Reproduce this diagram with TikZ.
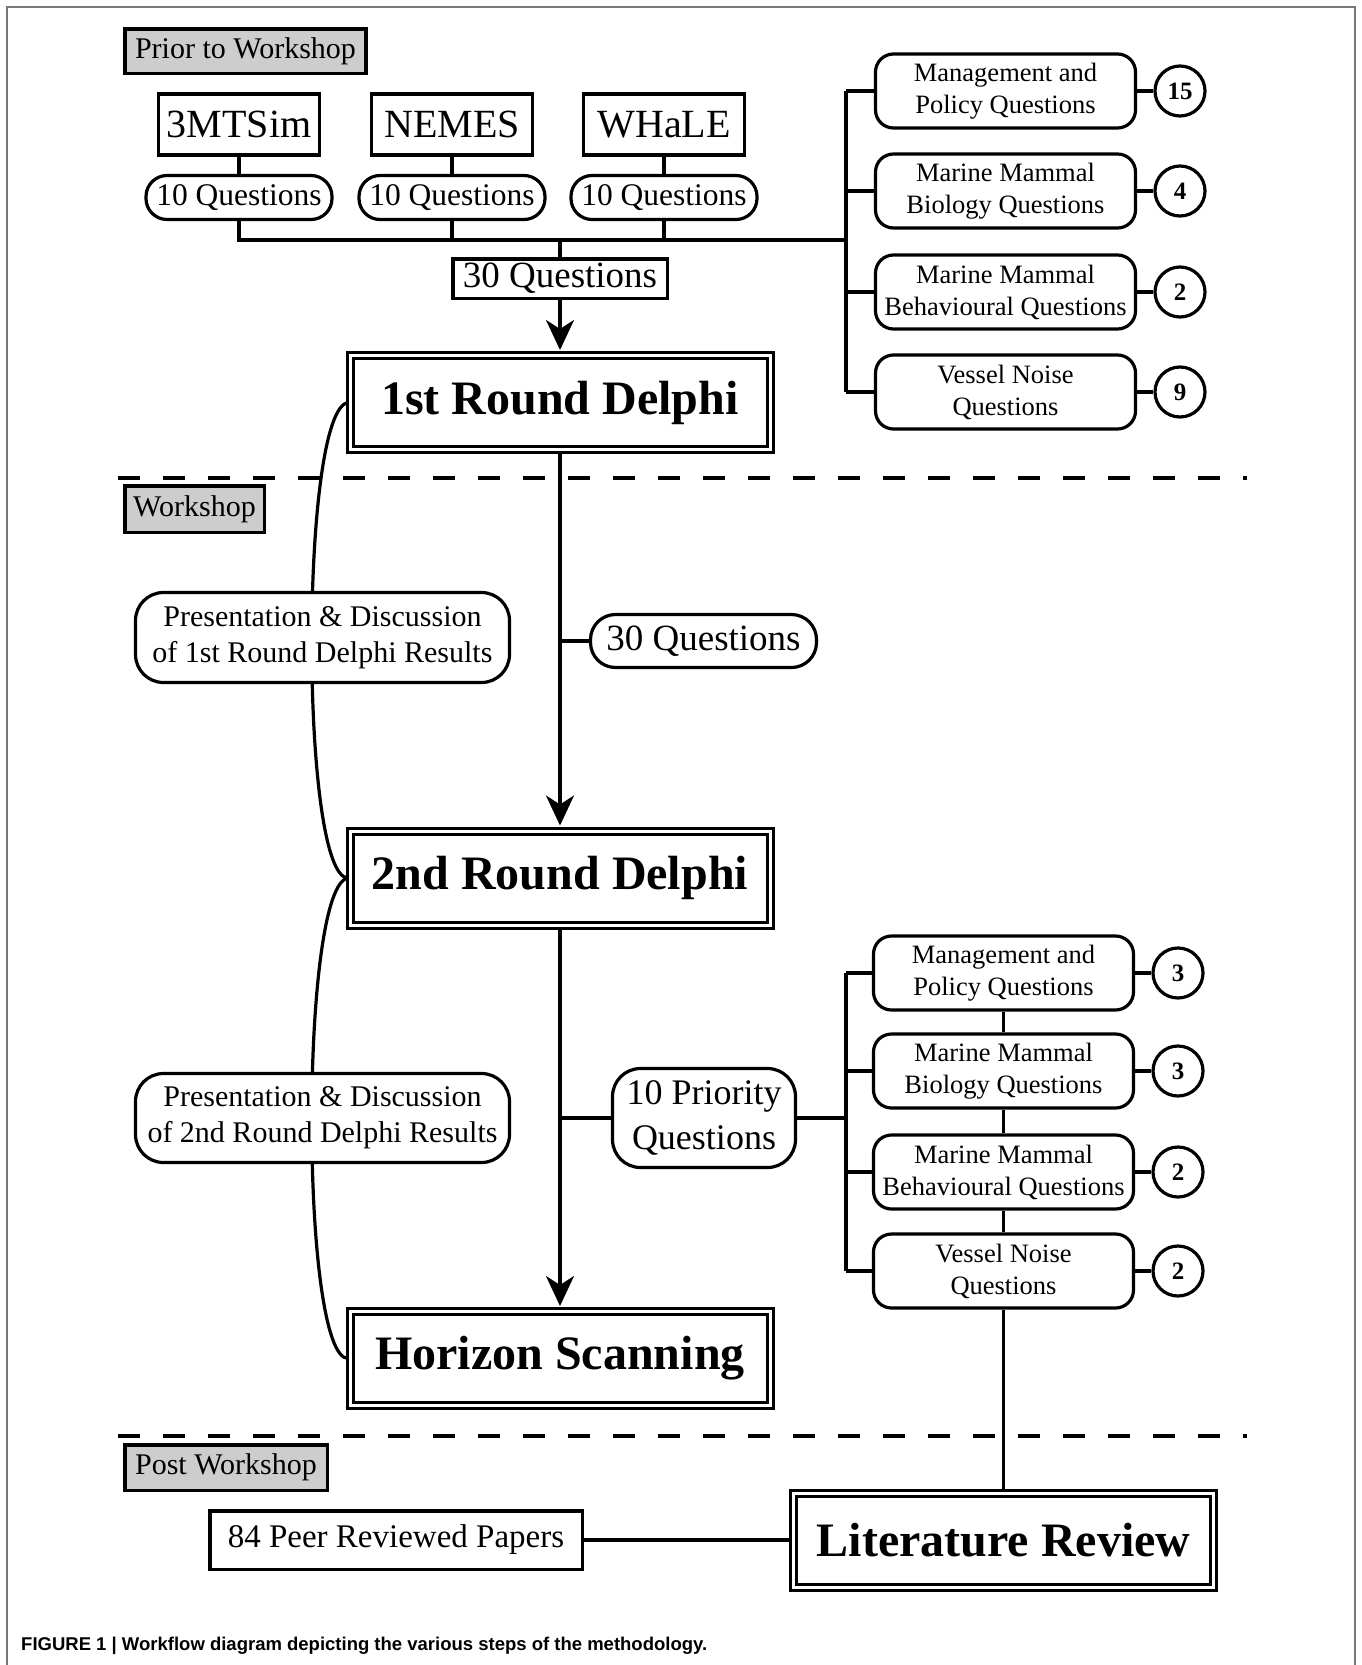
\documentclass[tikz,border=0pt]{standalone}
\usepackage{fontspec}
\setmainfont{Liberation Serif}
\newfontfamily\capfont{Liberation Sans}
\usetikzlibrary{arrows.meta}
\definecolor{stagegray}{RGB}{205,205,205}
\definecolor{framegray}{RGB}{120,120,120}

\begin{document}
\begin{tikzpicture}[x=1pt,y=-1pt,
  every node/.style={inner sep=0pt,align=center,text=black},
  conn/.style={line width=3.2pt},
  arrowconn/.style={line width=3.2pt,shorten >=4pt,-{Stealth[length=30pt,width=28pt,inset=9pt]}},
  stage/.style={draw,line width=3.5pt,fill=stagegray,font=\fontsize{30}{36}\selectfont},
  model/.style={draw,line width=3.5pt,fill=white,minimum width=161pt,minimum height=61pt,font=\fontsize{40}{48}\selectfont},
  qpill/.style={draw,line width=3.2pt,fill=white,rounded corners=21pt,minimum width=186pt,minimum height=44pt,font=\fontsize{31.5}{38}\selectfont},
  qbox/.style={draw,line width=3.5pt,fill=white,font=\fontsize{37}{44}\selectfont},
  roundbox/.style={draw,double,line width=3pt,double distance=3pt,fill=white,minimum width=420pt,minimum height=94pt,font=\bfseries\fontsize{48}{56}\selectfont},
  topic/.style={draw,line width=3.2pt,fill=white,rounded corners=18pt,minimum width=260pt,minimum height=74pt,font=\fontsize{26.5}{32}\selectfont},
  count/.style={draw,circle,line width=3.2pt,fill=white,minimum size=50pt,font=\bfseries\fontsize{25}{30}\selectfont},
  presbox/.style={draw,line width=3.2pt,fill=white,rounded corners=28pt,minimum width=374pt,font=\fontsize{30}{36}\selectfont}]
\useasboundingbox (0,0) rectangle (1362,1665);
\draw[framegray,line width=1.5pt] (7,1665) -- (7,7) -- (1355,7) -- (1355,1665);

% stages
\node[stage,minimum width=241pt,minimum height=44.5pt] (prior) at (245.5,51) {Prior to Workshop};
\node[stage,minimum width=139.5pt,minimum height=46.5pt] (workshop) at (194.5,509) {Workshop};
\node[stage,minimum width=202.5pt,minimum height=45.5pt] (post) at (226,1467.5) {Post Workshop};
\draw[line width=4pt,dash pattern=on 22pt off 23pt] (118,478) -- (1247,478);
\draw[line width=4pt,dash pattern=on 22pt off 23pt] (118,1436) -- (1247,1436);

% models
\node[model] (sim) at (239,124.5) {3MTSim};
\node[model] (nemes) at (452,124.5) {NEMES};
\node[model] (whale) at (664,124.5) {WHaLE};
\node[qpill] (q1) at (239,197.5) {10 Questions};
\node[qpill] (q2) at (452,197.5) {10 Questions};
\node[qpill] (q3) at (664,197.5) {10 Questions};
\node[qbox,minimum width=214.5pt,minimum height=39.5pt] (qall) at (560,278.5) {30 Questions};
\coordinate (busA) at (846,240);

% main steps
\node[roundbox] (rd1) at (560,402.5) {1st Round Delphi};
\node[roundbox] (rd2) at (560,878) {2nd Round Delphi};
\node[roundbox] (hs) at (560,1358.5) {Horizon Scanning};
\node[roundbox] (lit) at (1003.5,1540) {Literature Review};
\node[draw,line width=3.5pt,fill=white,minimum width=372.5pt,minimum height=58.5pt,font=\fontsize{33}{40}\selectfont] (peer) at (396,1540) {84 Peer Reviewed Papers};
\node[qpill,minimum width=226pt,minimum height=53pt,rounded corners=25pt,font=\fontsize{37}{44}\selectfont] (qmid) at (703.5,641) {30 Questions};
\node[qpill,minimum width=183pt,minimum height=99pt,rounded corners=28pt,font=\fontsize{36}{45}\selectfont] (prio) at (704,1118) {10 Priority\\Questions};
\coordinate (busB) at (846,1118);

% topic lists
\foreach \y/\t/\n [count=\i] in {91/{Management and\\Policy Questions}/15, 191/{Marine Mammal\\Biology Questions}/4, 292/{Marine Mammal\\Behavioural Questions}/2, 392/{Vessel Noise\\Questions}/9}{
  \node[topic] (tA\i) at (1005.5,\y) {\t};
  \node[count] (cA\i) at (1180,\y) {\n};
  \draw[conn] (tA\i) -- (cA\i);
  \draw[conn] (tA\i.west) -- (tA\i.west -| busA);
}
\foreach \y/\t/\n [count=\i] in {973/{Management and\\Policy Questions}/3, 1071/{Marine Mammal\\Biology Questions}/3, 1172/{Marine Mammal\\Behavioural Questions}/2, 1271/{Vessel Noise\\Questions}/2}{
  \node[topic] (tB\i) at (1003.5,\y) {\t};
  \node[count] (cB\i) at (1178,\y) {\n};
  \draw[conn] (tB\i) -- (cB\i);
  \draw[conn] (tB\i.west) -- (tB\i.west -| busB);
}

% connectors
\draw[conn] (sim) -- (q1);
\draw[conn] (nemes) -- (q2);
\draw[conn] (whale) -- (q3);
\draw[conn] (q1.south) |- (busA);
\draw[conn] (q2.south) -- (q2.south |- busA);
\draw[conn] (q3.south) -- (q3.south |- busA);
\draw[conn] (qall.north |- busA) -- (qall.north);
\draw[conn] (tA1.west -| busA) -- (tA4.west -| busA);
\draw[arrowconn] (qall) -- (rd1);
\draw[arrowconn] (rd1) -- (rd2);
\draw[conn] (qmid.west) -- (qmid.west -| rd1.south);
\draw[arrowconn] (rd2) -- (hs);
\draw[conn] (prio.west) -- (prio.west -| rd2.south);
\draw[conn] (prio.east) -- (busB);
\draw[conn] (tB1.west -| busB) -- (tB4.west -| busB);
\draw[conn] (tB1) -- (tB2);
\draw[conn] (tB2) -- (tB3);
\draw[conn] (tB3) -- (tB4);
\draw[conn] (tB4) -- (lit);
\draw[conn] (peer) -- (lit);
\draw[conn] (rd1.west) .. controls +(-49,4) and +(-49,2) .. (rd2.west);
\draw[conn] (rd2.west) .. controls +(-49,4) and +(-49,2) .. (hs.west);

% discussion boxes sit on the curves
\node[presbox,minimum height=90pt] (pres1) at (322.5,637.5) {Presentation \& Discussion\\of 1st Round Delphi Results};
\node[presbox,minimum height=89pt] (pres2) at (322.5,1118) {Presentation \& Discussion\\of 2nd Round Delphi Results};

\node[anchor=west,font=\capfont\bfseries\fontsize{18.5}{22}\selectfont] (caption) at (21,1646) {FIGURE 1 | Workflow diagram depicting the various steps of the methodology.};
\end{tikzpicture}
\end{document}
